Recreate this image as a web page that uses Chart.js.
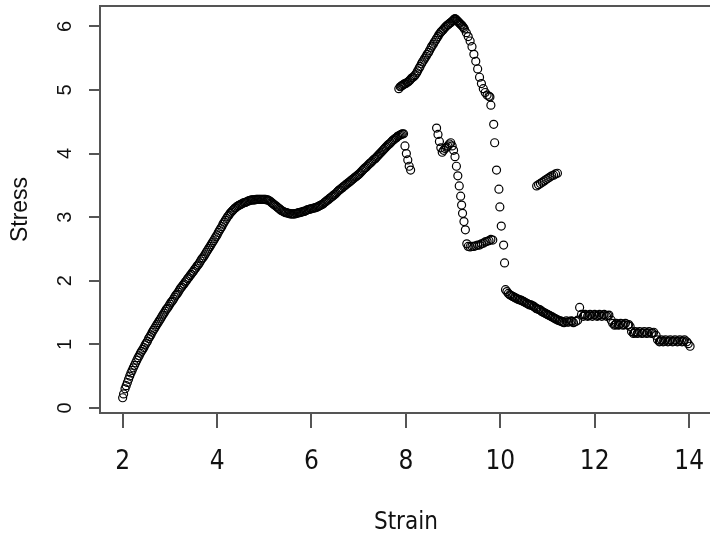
<!DOCTYPE html>
<html lang="en">
<head>
<meta charset="UTF-8">
<title>Stress vs Strain</title>
<script src="https://cdn.jsdelivr.net/npm/chart.js"></script>
<style>
    html, body {
        margin: 0;
        padding: 0;
        background: #fff;
        overflow: hidden;
    }

    .plot-wrap {
        width: 717px;
        height: 535px;
    }
</style>
</head>
<body>
<div class="plot-wrap"><canvas id="plot" width="717" height="535"></canvas></div>

<script>
    // ---- data ----
    // main curve: rise, hump, rise to ~4.3 and short drop
    const riseStrain = [
        2.00, 2.02, 2.05, 2.10, 2.15, 2.20, 2.25, 2.30, 2.35, 2.40,
        2.45, 2.50, 2.55, 2.60, 2.65, 2.70, 2.75, 2.80, 2.85, 2.90,
        2.95, 3.00, 3.05, 3.10, 3.15, 3.20, 3.25, 3.30, 3.35, 3.40,
        3.45, 3.50, 3.55, 3.60, 3.65, 3.70, 3.75, 3.80, 3.85, 3.90,
        3.95, 4.00, 4.05, 4.10, 4.15, 4.20, 4.25, 4.30, 4.35, 4.40,
        4.45, 4.50, 4.55, 4.60, 4.65, 4.70, 4.75, 4.80, 4.85, 4.90,
        4.95, 5.00, 5.05, 5.10, 5.15, 5.20, 5.25, 5.30, 5.35, 5.40,
        5.45, 5.50, 5.55, 5.60, 5.65, 5.70, 5.75, 5.80, 5.85, 5.90,
        5.95, 6.00, 6.05, 6.10, 6.15, 6.20, 6.25, 6.30, 6.35, 6.40,
        6.45, 6.50, 6.55, 6.60, 6.65, 6.70, 6.75, 6.80, 6.85, 6.90,
        6.95, 7.00, 7.05, 7.10, 7.15, 7.20, 7.25, 7.30, 7.35, 7.40,
        7.45, 7.50, 7.55, 7.60, 7.65, 7.70, 7.75, 7.80, 7.85, 7.90,
        7.95, 7.98, 8.01, 8.04, 8.07, 8.10
    ];
    const riseStress = [
        0.16, 0.22, 0.30, 0.40, 0.50, 0.59, 0.67, 0.75, 0.82, 0.89,
        0.95, 1.02, 1.09, 1.15, 1.22, 1.28, 1.34, 1.40, 1.46, 1.52,
        1.57, 1.63, 1.68, 1.74, 1.79, 1.85, 1.90, 1.95, 2.00, 2.05,
        2.10, 2.15, 2.20, 2.25, 2.31, 2.36, 2.42, 2.48, 2.54, 2.60,
        2.66, 2.72, 2.79, 2.85, 2.92, 2.98, 3.03, 3.08, 3.12, 3.15,
        3.18, 3.20, 3.22, 3.23, 3.25, 3.26, 3.27, 3.27, 3.28, 3.28,
        3.28, 3.28, 3.27, 3.26, 3.23, 3.20, 3.17, 3.14, 3.11, 3.09,
        3.07, 3.06, 3.05, 3.05, 3.05, 3.06, 3.07, 3.08, 3.09, 3.11,
        3.12, 3.13, 3.14, 3.15, 3.17, 3.19, 3.21, 3.24, 3.27, 3.30,
        3.33, 3.36, 3.40, 3.43, 3.46, 3.49, 3.52, 3.55, 3.58, 3.61,
        3.64, 3.67, 3.71, 3.75, 3.78, 3.82, 3.85, 3.89, 3.92, 3.96,
        4.00, 4.04, 4.08, 4.12, 4.15, 4.19, 4.22, 4.25, 4.28, 4.30,
        4.31, 4.12, 4.00, 3.90, 3.80, 3.74
    ];
    // the in-between readings of the same dense band
    const riseFillStrain = [
        2.075, 2.125, 2.175, 2.225, 2.275, 2.325, 2.375, 2.425, 2.475, 2.525,
        2.575, 2.625, 2.675, 2.725, 2.775, 2.825, 2.875, 2.925, 2.975, 3.025,
        3.075, 3.125, 3.175, 3.225, 3.275, 3.325, 3.375, 3.425, 3.475, 3.525,
        3.575, 3.625, 3.675, 3.725, 3.775, 3.825, 3.875, 3.925, 3.975, 4.025,
        4.075, 4.125, 4.175, 4.225, 4.275, 4.325, 4.375, 4.425, 4.475, 4.525,
        4.575, 4.625, 4.675, 4.725, 4.775, 4.825, 4.875, 4.925, 4.975, 5.025,
        5.075, 5.125, 5.175, 5.225, 5.275, 5.325, 5.375, 5.425, 5.475, 5.525,
        5.575, 5.625, 5.675, 5.725, 5.775, 5.825, 5.875, 5.925, 5.975, 6.025,
        6.075, 6.125, 6.175, 6.225, 6.275, 6.325, 6.375, 6.425, 6.475, 6.525,
        6.575, 6.625, 6.675, 6.725, 6.775, 6.825, 6.875, 6.925, 6.975, 7.025,
        7.075, 7.125, 7.175, 7.225, 7.275, 7.325, 7.375, 7.425, 7.475, 7.525,
        7.575, 7.625, 7.675, 7.725, 7.775, 7.825, 7.875, 7.925
    ];
    const riseFillStress = [
        0.35, 0.45, 0.55, 0.63, 0.71, 0.79, 0.86, 0.92, 0.99, 1.05,
        1.12, 1.19, 1.25, 1.31, 1.37, 1.43, 1.49, 1.55, 1.60, 1.66,
        1.71, 1.77, 1.82, 1.88, 1.93, 1.98, 2.03, 2.08, 2.13, 2.18,
        2.23, 2.28, 2.34, 2.39, 2.45, 2.51, 2.57, 2.63, 2.69, 2.76,
        2.82, 2.89, 2.95, 3.01, 3.06, 3.10, 3.14, 3.17, 3.19, 3.21,
        3.23, 3.24, 3.26, 3.27, 3.27, 3.28, 3.28, 3.28, 3.28, 3.28,
        3.27, 3.25, 3.22, 3.19, 3.16, 3.13, 3.10, 3.08, 3.07, 3.06,
        3.05, 3.05, 3.06, 3.07, 3.08, 3.09, 3.10, 3.12, 3.13, 3.14,
        3.15, 3.16, 3.18, 3.20, 3.23, 3.26, 3.29, 3.32, 3.35, 3.38,
        3.42, 3.45, 3.48, 3.51, 3.54, 3.57, 3.60, 3.63, 3.66, 3.69,
        3.73, 3.77, 3.80, 3.84, 3.87, 3.91, 3.94, 3.98, 4.02, 4.06,
        4.10, 4.14, 4.17, 4.21, 4.24, 4.27, 4.29, 4.31
    ];

    // upper branch: peak near 6.1 then the sharp fall past 10
    const peakStrain = [
        7.85, 7.88, 7.92, 7.96, 8.00, 8.05, 8.10, 8.15, 8.20, 8.25,
        8.30, 8.35, 8.40, 8.45, 8.50, 8.55, 8.60, 8.65, 8.70, 8.75,
        8.80, 8.85, 8.90, 8.95, 9.00, 9.04, 9.08, 9.12, 9.16, 9.20,
        9.24, 9.28, 9.32, 9.36, 9.40, 9.44, 9.48, 9.52, 9.56, 9.60,
        9.64, 9.68, 9.72, 9.76, 9.78, 9.80, 9.86, 9.88, 9.92, 9.97,
        9.99, 10.02, 10.07, 10.09
    ];
    const peakStress = [
        5.02, 5.05, 5.07, 5.09, 5.10, 5.13, 5.17, 5.20, 5.24, 5.30,
        5.37, 5.44, 5.50, 5.56, 5.62, 5.69, 5.75, 5.81, 5.87, 5.92,
        5.96, 6.00, 6.03, 6.06, 6.09, 6.12, 6.09, 6.06, 6.03, 6.00,
        5.96, 5.90, 5.84, 5.77, 5.68, 5.56, 5.45, 5.33, 5.20, 5.10,
        5.02, 4.96, 4.92, 4.90, 4.89, 4.76, 4.46, 4.17, 3.74, 3.44,
        3.16, 2.86, 2.56, 2.28
    ];
    const peakFillStrain = [
        7.90, 7.94, 7.98, 8.03, 8.08, 8.13, 8.18, 8.23, 8.28, 8.33,
        8.38, 8.43, 8.48, 8.53, 8.58, 8.63, 8.68, 8.73, 8.78, 8.83,
        8.88, 8.93, 8.98, 9.02, 9.06, 9.10, 9.14, 9.18, 9.22
    ];
    const peakFillStress = [
        5.06, 5.08, 5.10, 5.12, 5.15, 5.19, 5.22, 5.27, 5.34, 5.41,
        5.47, 5.53, 5.59, 5.66, 5.72, 5.78, 5.84, 5.90, 5.94, 5.98,
        6.02, 6.05, 6.08, 6.11, 6.11, 6.08, 6.05, 6.02, 5.98
    ];

    // middle branch: 4.4 down to the 2.6 shelf
    const midStrain = [
        8.65, 8.68, 8.71, 8.74, 8.77, 8.80, 8.83, 8.86, 8.89, 8.92,
        8.95, 8.98, 9.01, 9.04, 9.07, 9.10, 9.13, 9.16, 9.18, 9.20,
        9.23, 9.26, 9.29, 9.32, 9.36, 9.40, 9.44, 9.48, 9.52, 9.56,
        9.60, 9.64, 9.68, 9.72, 9.76, 9.80, 9.84
    ];
    const midStress = [
        4.40, 4.30, 4.19, 4.09, 4.02, 4.05, 4.08, 4.10, 4.12, 4.15,
        4.17, 4.12, 4.05, 3.95, 3.80, 3.65, 3.49, 3.33, 3.19, 3.06,
        2.93, 2.80, 2.58, 2.54, 2.53, 2.54, 2.54, 2.55, 2.56, 2.56,
        2.58, 2.59, 2.61, 2.62, 2.63, 2.65, 2.64
    ];

    // short stray run around 11
    const strayStrain = [10.77, 10.81, 10.85, 10.89, 10.93, 10.97, 11.01, 11.05, 11.09, 11.13, 11.17, 11.21];
    const strayStress = [3.49, 3.51, 3.53, 3.55, 3.57, 3.59, 3.61, 3.63, 3.65, 3.66, 3.68, 3.69];

    // stepped tail down to 14
    const tailStrain = [
        10.11, 10.14, 10.17, 10.20, 10.25, 10.30, 10.35, 10.40, 10.45, 10.50,
        10.55, 10.60, 10.65, 10.70, 10.75, 10.80, 10.85, 10.90, 10.95, 11.00,
        11.05, 11.10, 11.15, 11.20, 11.25, 11.30, 11.35, 11.40, 11.45, 11.50,
        11.55, 11.60, 11.64, 11.68, 11.72, 11.76, 11.80, 11.85, 11.90, 11.95,
        12.00, 12.05, 12.10, 12.15, 12.20, 12.25, 12.30, 12.35, 12.38, 12.42,
        12.46, 12.50, 12.55, 12.60, 12.65, 12.70, 12.75, 12.78, 12.82, 12.86,
        12.90, 12.95, 13.00, 13.05, 13.10, 13.15, 13.20, 13.25, 13.30, 13.33,
        13.37, 13.41, 13.45, 13.50, 13.55, 13.60, 13.65, 13.70, 13.75, 13.80,
        13.85, 13.90, 13.95, 13.98, 14.02
    ];
    const tailStress = [
        1.86, 1.83, 1.80, 1.78, 1.76, 1.74, 1.72, 1.70, 1.69, 1.67,
        1.65, 1.63, 1.62, 1.60, 1.57, 1.55, 1.54, 1.51, 1.49, 1.47,
        1.45, 1.43, 1.41, 1.39, 1.37, 1.36, 1.34, 1.37, 1.35, 1.37,
        1.34, 1.36, 1.38, 1.58, 1.47, 1.44, 1.47, 1.44, 1.47, 1.44,
        1.47, 1.44, 1.47, 1.44, 1.47, 1.44, 1.46, 1.38, 1.33, 1.30,
        1.33, 1.30, 1.33, 1.30, 1.33, 1.30, 1.28, 1.20, 1.17, 1.20,
        1.17, 1.20, 1.17, 1.20, 1.17, 1.20, 1.17, 1.19, 1.14, 1.07,
        1.04, 1.07, 1.04, 1.07, 1.04, 1.07, 1.04, 1.07, 1.04, 1.07,
        1.04, 1.07, 1.04, 1.01, 0.97
    ];
    const tailFillStrain = [
        10.22, 10.27, 10.32, 10.37, 10.42, 10.47, 10.52, 10.57, 10.62, 10.67,
        10.72, 10.77, 10.82, 10.87, 10.92, 10.97, 11.02, 11.07, 11.12, 11.17,
        11.22, 11.27, 11.32, 11.42, 11.52, 11.78, 11.88, 11.98, 12.08, 12.18,
        12.28, 12.44, 12.52, 12.62, 12.72, 12.84, 12.92, 13.02, 13.12, 13.22,
        13.39, 13.48, 13.58, 13.68, 13.78, 13.88
    ];
    const tailFillStress = [
        1.77, 1.75, 1.73, 1.71, 1.70, 1.68, 1.66, 1.64, 1.62, 1.61,
        1.59, 1.56, 1.55, 1.52, 1.50, 1.48, 1.46, 1.44, 1.42, 1.40,
        1.38, 1.37, 1.35, 1.35, 1.36, 1.46, 1.45, 1.46, 1.45, 1.46,
        1.45, 1.31, 1.31, 1.31, 1.31, 1.18, 1.18, 1.18, 1.18, 1.18,
        1.05, 1.05, 1.05, 1.05, 1.05, 1.05
    ];

    const strainTicks = [2, 4, 6, 8, 10, 12, 14];
    const stressTicks = [0, 1, 2, 3, 4, 5, 6];

    // ---- build points ----
    function pairUp(xs, ys) {
        const n = Math.min(xs.length, ys.length);
        const pts = [];
        for (let i = 0; i < n; i++) pts.push({ x: xs[i], y: ys[i] });
        return pts;
    }

    const points = [].concat(
        pairUp(riseStrain, riseStress),
        pairUp(riseFillStrain, riseFillStress),
        pairUp(peakStrain, peakStress),
        pairUp(peakFillStrain, peakFillStress),
        pairUp(midStrain, midStress),
        pairUp(strayStrain, strayStress),
        pairUp(tailStrain, tailStress),
        pairUp(tailFillStrain, tailFillStress)
    );

    // R style box; its right side falls just outside the window in the original
    const boxPlugin = {
        id: 'plotBox',
        afterDatasetsDraw(chart) {
            const { ctx, chartArea: a } = chart;
            ctx.save();
            ctx.strokeStyle = '#555';
            ctx.lineWidth = 2;
            ctx.beginPath();
            ctx.moveTo(a.right + 2, a.top);
            ctx.lineTo(a.left, a.top);
            ctx.lineTo(a.left, a.bottom);
            ctx.lineTo(a.right + 2, a.bottom);
            ctx.stroke();
            ctx.restore();
        }
    };

    const narrow = "'Liberation Sans Narrow', 'DejaVu Sans Condensed', 'Liberation Sans', sans-serif";
    const sans = "'Liberation Sans', Arial, sans-serif";

    new Chart(document.getElementById('plot'), {
        type: 'scatter',
        data: {
            datasets: [{
                label: 'Stress',
                data: points,
                pointStyle: 'circle',
                pointRadius: 4,
                pointHoverRadius: 4,
                pointBorderWidth: 1.2,
                borderColor: '#000',
                backgroundColor: 'rgba(0,0,0,0)',
                showLine: false
            }]
        },
        options: {
            responsive: false,
            animation: false,
            events: [],
            layout: { padding: { top: 6, right: 0, bottom: 0, left: 0 } },
            plugins: {
                legend: { display: false },
                tooltip: { enabled: false }
            },
            scales: {
                x: {
                    type: 'linear',
                    min: 1.52,
                    max: 14.48,
                    afterBuildTicks: s => { s.ticks = strainTicks.map(v => ({ value: v })); },
                    afterFit: s => { s.height = 122; s.paddingLeft = 0; s.paddingRight = 0; },
                    border: { display: false },
                    grid: {
                        drawOnChartArea: false,
                        drawTicks: true,
                        tickLength: 15,
                        color: '#555',
                        lineWidth: 2
                    },
                    ticks: {
                        font: { family: narrow, size: 26 },
                        color: '#111',
                        padding: 19,
                        maxRotation: 0
                    },
                    title: {
                        display: true,
                        text: 'Strain',
                        font: { family: narrow, size: 24, lineHeight: 1 },
                        color: '#111',
                        padding: { top: 0, bottom: 0 }
                    }
                },
                y: {
                    type: 'linear',
                    min: -0.08,
                    max: 6.32,
                    afterBuildTicks: s => { s.ticks = stressTicks.map(v => ({ value: v })); },
                    afterFit: s => { s.width = 100; s.paddingTop = 0; s.paddingBottom = 0; },
                    border: { display: false },
                    grid: {
                        drawOnChartArea: false,
                        drawTicks: true,
                        tickLength: 11,
                        color: '#555',
                        lineWidth: 2
                    },
                    ticks: {
                        font: { family: sans, size: 20 },
                        color: '#111',
                        minRotation: 90,
                        maxRotation: 90,
                        crossAlign: 'center',
                        padding: 18
                    },
                    title: {
                        display: true,
                        text: 'Stress',
                        font: { family: sans, size: 23 },
                        color: '#111',
                        padding: { top: 7, bottom: 0 }
                    }
                }
            }
        },
        plugins: [boxPlugin]
    });
</script>
</body>
</html>
